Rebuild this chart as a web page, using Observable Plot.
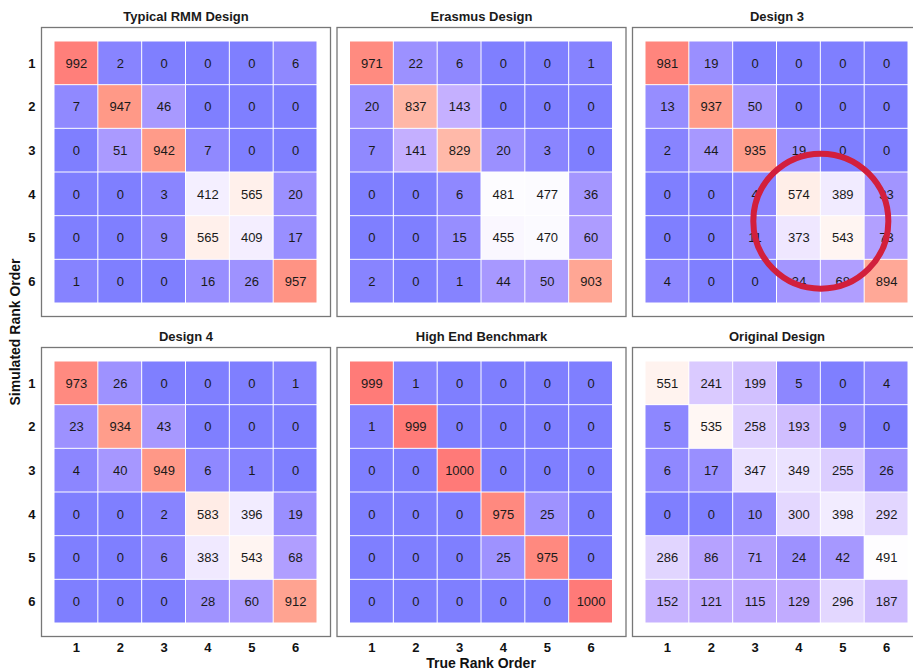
<!DOCTYPE html>
<html>
<head>
<meta charset="utf-8">
<script src="https://cdn.jsdelivr.net/npm/d3@7"></script>
<script src="https://cdn.jsdelivr.net/npm/@observablehq/plot@0.6"></script>
<style>
  html, body { margin: 0; padding: 0; background: #fff; overflow: hidden; }
  #chart { position: relative; width: 925px; height: 670px; font-family: "Liberation Sans", Arial, Helvetica, sans-serif; }
  #chart svg { max-width: none !important; display: block; }
  .axis-title { position: absolute; font-weight: bold; font-size: 14px; color: #111; white-space: nowrap; line-height: 1; }
</style>
</head>
<body>
<div id="chart"></div>
<script>
// Rank labels shared by both axes
const ranks = ["1", "2", "3", "4", "5", "6"];

// Panel titles, in reading order (3 per row)
const designNames = ["Typical RMM Design", "Erasmus Design", "Design 3", "Design 4", "High End Benchmark", "Original Design"];

// Counts per design: rows = simulated rank 1..6, columns = true rank 1..6
const typicalRMM = [
  [992, 2, 0, 0, 0, 6],
  [7, 947, 46, 0, 0, 0],
  [0, 51, 942, 7, 0, 0],
  [0, 0, 3, 412, 565, 20],
  [0, 0, 9, 565, 409, 17],
  [1, 0, 0, 16, 26, 957]
];
const erasmus = [
  [971, 22, 6, 0, 0, 1],
  [20, 837, 143, 0, 0, 0],
  [7, 141, 829, 20, 3, 0],
  [0, 0, 6, 481, 477, 36],
  [0, 0, 15, 455, 470, 60],
  [2, 0, 1, 44, 50, 903]
];
const design3 = [
  [981, 19, 0, 0, 0, 0],
  [13, 937, 50, 0, 0, 0],
  [2, 44, 935, 19, 0, 0],
  [0, 0, 4, 574, 389, 33],
  [0, 0, 11, 373, 543, 73],
  [4, 0, 0, 34, 68, 894]
];
const design4 = [
  [973, 26, 0, 0, 0, 1],
  [23, 934, 43, 0, 0, 0],
  [4, 40, 949, 6, 1, 0],
  [0, 0, 2, 583, 396, 19],
  [0, 0, 6, 383, 543, 68],
  [0, 0, 0, 28, 60, 912]
];
const highEnd = [
  [999, 1, 0, 0, 0, 0],
  [1, 999, 0, 0, 0, 0],
  [0, 0, 1000, 0, 0, 0],
  [0, 0, 0, 975, 25, 0],
  [0, 0, 0, 25, 975, 0],
  [0, 0, 0, 0, 0, 1000]
];
const original = [
  [551, 241, 199, 5, 0, 4],
  [5, 535, 258, 193, 9, 0],
  [6, 17, 347, 349, 255, 26],
  [0, 0, 10, 300, 398, 292],
  [286, 86, 71, 24, 42, 491],
  [152, 121, 115, 129, 296, 187]
];

// The 2x2 block ringed in red (ranks 4 and 5 swapping); anchored on its top-left cell
const highlight = { design: "Design 3", trueRank: "4", simRank: "4" };

// ---- layout ----
const W = 925, H = 670;
const mL = 54, mR = 17, mT = 41, mB = 47;
const colGap = 32.5, rowGap = 58;
const panelW = (W - mL - mR - 2 * colGap) / 3;
const panelH = (H - mT - mB - rowGap) / 2;
const cellW = panelW / 6, cellH = panelH / 6;

const matrices = [typicalRMM, erasmus, design3, design4, highEnd, original];
const panels = designNames.map((name, i) => ({ name, col: i % 3, row: Math.floor(i / 3) }));

const cells = [];
panels.forEach((p, i) => {
  matrices[i].forEach((r, si) => r.forEach((count, ti) => {
    cells.push({ design: p.name, col: p.col, row: p.row, sim: ranks[si], tru: ranks[ti], count });
  }));
});

const hp = panels.find(p => p.name === highlight.design);
const rings = [{ col: hp.col, row: hp.row, tru: highlight.trueRank, sim: highlight.simRank }];

// Diverging fill: periwinkle blue -> white -> salmon red
const blueSide = d3.piecewise(d3.interpolateLab, ["#7f7fff", "#c0aaff", "#ffffff"]);
const redSide = d3.scaleLinear()
  .domain([0, 0.15, 0.67, 0.89, 1])
  .range(["#ffffff", "#ffeee8", "#ffb8a8", "#ff9a88", "#ff7a78"])
  .interpolate(d3.interpolateLab);
const fillInterp = t => t < 0.5
  ? blueSide(Math.sqrt(t / 0.5))
  : redSide((t - 0.5) / 0.5);

const chart = Plot.plot({
  width: W,
  height: H,
  marginLeft: mL,
  marginRight: mR,
  marginTop: mT,
  marginBottom: mB,
  style: { fontFamily: '"Liberation Sans", Arial, Helvetica, sans-serif', fontSize: "13px", color: "#111", background: "white" },
  fx: { domain: [0, 1, 2], paddingInner: colGap / (panelW + colGap), paddingOuter: 0, round: false, axis: null },
  fy: { domain: [0, 1], paddingInner: rowGap / (panelH + rowGap), paddingOuter: 0, round: false, axis: null },
  x: { domain: ranks, padding: 0, round: false, tickSize: 0, tickPadding: 19, label: null },
  y: { domain: ranks, padding: 0, round: false, tickSize: 0, tickPadding: 19, label: null },
  color: { type: "linear", domain: [0, 1000], interpolate: fillInterp },
  marks: [
    Plot.frame({ stroke: "#777", strokeWidth: 1.3, insetTop: -14, insetBottom: -13, insetLeft: -13, insetRight: -13 }),
    Plot.cell(cells, { fx: "col", fy: "row", x: "tru", y: "sim", fill: "count", inset: 0.5 }),
    Plot.text(cells, { fx: "col", fy: "row", x: "tru", y: "sim", text: d => String(d.count), fill: "#1a1a1a", fontSize: 13 }),
    Plot.text(panels, { fx: "col", fy: "row", text: "name", frameAnchor: "top", lineAnchor: "middle", dy: -25, fontWeight: "bold", fontSize: 13, fill: "#1a1a1a" }),
    Plot.dot(rings, { fx: "col", fy: "row", x: "tru", y: "sim", dx: cellW / 2, dy: cellH / 2 + 5, r: 67.5, fill: "none", stroke: "#d21f3c", strokeWidth: 6 })
  ]
});

chart.querySelectorAll('[aria-label^="x-axis"] text, [aria-label^="y-axis"] text').forEach(t => {
  t.setAttribute("font-weight", "bold");
  t.style.fontWeight = "bold";
});

const root = document.getElementById("chart");
root.appendChild(chart);

const xTitle = document.createElement("div");
xTitle.className = "axis-title";
xTitle.textContent = "True Rank Order";
xTitle.style.left = ((mL + (W - mR)) / 2) + "px";
xTitle.style.top = "663px";
xTitle.style.transform = "translate(-50%, -50%)";
root.appendChild(xTitle);

const yTitle = document.createElement("div");
yTitle.className = "axis-title";
yTitle.textContent = "Simulated Rank Order";
yTitle.style.left = "15px";
yTitle.style.top = ((mT + (H - mB)) / 2) + "px";
yTitle.style.transform = "translate(-50%, -50%) rotate(-90deg)";
root.appendChild(yTitle);
</script>
</body>
</html>
